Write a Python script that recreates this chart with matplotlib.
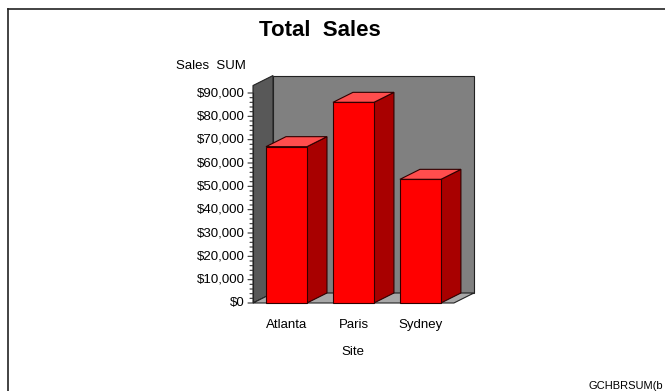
import numpy as np
import matplotlib
matplotlib.use('Agg')
import matplotlib.pyplot as plt
from matplotlib.patches import Polygon, Rectangle
from matplotlib.lines import Line2D

plt.rcParams['font.family'] = ['Liberation Sans', 'DejaVu Sans']

sites = ['Atlanta', 'Paris', 'Sydney']
sales = [67000, 86000, 53000]
yticks = list(range(0, 90001, 10000))

W, H = 665, 391
fig = plt.figure(figsize=(W / 100, H / 100), dpi=100)
ax = fig.add_axes([253 / W, (H - 303) / H, 221 / W, 210 / H])
ax.set_xlim(-0.5, 2.8)
ax.set_ylim(0, 90000)
ax.axis('off')

# depth offset of the 3d look, in data units
dx = 20 / 67
dy = 10 / 210 * 90000
top = 93200
x0, x1 = -0.5, 2.5
edge = '#222222'

# back wall, side wall and floor
ax.add_patch(Polygon([(x0 + dx, dy), (x1 + dx, dy), (x1 + dx, top + dy), (x0 + dx, top + dy)],
                     closed=True, fc='#808080', ec=edge, lw=0.8, clip_on=False))
ax.add_patch(Polygon([(x0, 0), (x0 + dx, dy), (x0 + dx, top + dy), (x0, top)],
                     closed=True, fc='#585858', ec=edge, lw=0.8, clip_on=False))
ax.add_patch(Polygon([(x0, 0), (x1, 0), (x1 + dx, dy), (x0 + dx, dy)],
                     closed=True, fc='#a8a8a8', ec=edge, lw=0.8, clip_on=False))

bw = 41 / 67
for i, v in enumerate(sales):
    l, r = i - bw / 2, i + bw / 2
    ax.add_patch(Polygon([(r, 0), (r + dx, dy), (r + dx, v + dy), (r, v)],
                         closed=True, fc='#a80000', ec='#300000', lw=0.8, clip_on=False))
    ax.add_patch(Polygon([(l, v), (r, v), (r + dx, v + dy), (l + dx, v + dy)],
                         closed=True, fc='#ff4d4d', ec='#300000', lw=0.8, clip_on=False))
    ax.add_patch(Rectangle((l, 0), bw, v, fc='#ff0000', ec='#300000', lw=0.8, clip_on=False))

# y axis with major and minor ticks
ax.add_line(Line2D([x0, x0], [0, 90000], color='#222222', lw=0.8))
for t in range(0, 90001, 2000):
    ln = 5 if t % 10000 == 0 else 3
    ax.annotate('', xy=(x0, t), xytext=(-ln, 0), textcoords='offset pixels',
                arrowprops=dict(arrowstyle='-', color='#333333', lw=0.8,
                                shrinkA=0, shrinkB=0))
for t in yticks:
    ax.annotate('${:,.0f}'.format(t), xy=(x0, t), xytext=(-8, 0), textcoords='offset pixels',
                ha='right', va='center', fontsize=9.5)

for i, s in enumerate(sites):
    ax.annotate(s, xy=(i, 0), xytext=(0, -22), textcoords='offset pixels',
                ha='center', va='center', fontsize=9.5)

fig.text(320 / W, 1 - 30 / H, 'Total  Sales', ha='center', va='center',
         fontsize=16, fontweight='bold')
fig.text(211 / W, 1 - 66 / H, 'Sales  SUM', ha='center', va='center', fontsize=9.5)
fig.text(353 / W, 1 - 352 / H, 'Site', ha='center', va='center', fontsize=9.5)
fig.text(663 / W, 1 - 386 / H, 'GCHBRSUM(b', ha='right', va='center', fontsize=8)

# page frame
fig.add_artist(Line2D([8 / W, 8 / W], [-0.1, 1 - 9 / H], color='#222222', lw=1.2))
fig.add_artist(Line2D([8 / W, 1.1], [1 - 9 / H, 1 - 9 / H], color='#222222', lw=1.2))

fig.savefig('out.png', dpi=100)
